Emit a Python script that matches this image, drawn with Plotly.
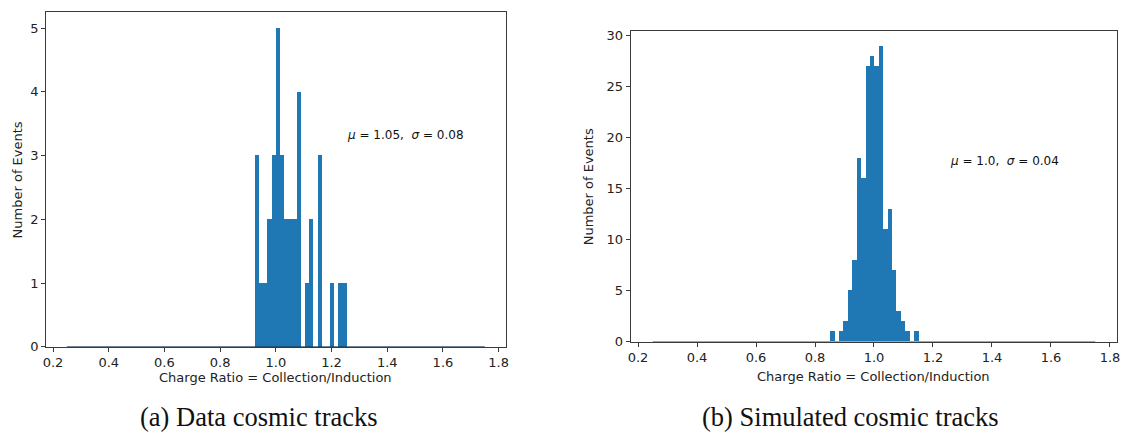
import numpy as np
import plotly.graph_objects as go

# Histogram binning (shared by both panels)
bin_lo = 0.25
bin_hi = 1.75
n_bins = 100

# (a) Data cosmic tracks: counts for bins starting at index data_first_bin
data_first_bin = 45
data_counts = [3, 1, 1, 2, 3, 5, 3, 2, 2, 2, 4, 0, 1, 2, 0, 3, 0, 0, 1, 0, 1, 1]

# (b) Simulated cosmic tracks
sim_first_bin = 40
sim_counts = [1, 0, 1, 2, 5, 8, 18, 16, 27, 28, 27, 29, 11, 13, 7, 3, 2, 1, 0, 1]

data_label = "<i>μ</i> = 1.05,  <i>σ</i> = 0.08"
sim_label = "<i>μ</i> = 1.0,  <i>σ</i> = 0.04"
data_caption = "(a) Data cosmic tracks"
sim_caption = "(b) Simulated cosmic tracks"
x_title = "Charge Ratio = Collection/Induction"
y_title = "Number of Events"
x_ticks = [0.2, 0.4, 0.6, 0.8, 1.0, 1.2, 1.4, 1.6, 1.8]

bw = (bin_hi - bin_lo) / n_bins
BLUE = "#1f77b4"
AX = "#3a3a3a"
FONT = "DejaVu Sans"


def centers(first, counts):
    idx = np.arange(first, first + len(counts))
    return bin_lo + (idx + 0.5) * bw


fig = go.Figure()
for first, counts, xa, ya in [(data_first_bin, data_counts, "x", "y"),
                               (sim_first_bin, sim_counts, "x2", "y2")]:
    fig.add_trace(go.Scatter(x=[bin_lo, bin_hi], y=[0, 0], mode="lines",
                             line=dict(color="#1f3a57", width=1), xaxis=xa, yaxis=ya,
                             hoverinfo="skip", showlegend=False, cliponaxis=False))
    fig.add_trace(go.Bar(x=centers(first, counts), y=counts, width=bw,
                         marker=dict(color=BLUE, line=dict(width=0)),
                         xaxis=xa, yaxis=ya, showlegend=False))

W, H = 1129, 440
L1, R1, T1, B1 = 43.3, 505.3, 9.3, 352.7
L2, R2, T2, B2 = 631.0, 1120.3, 29.0, 347.3

common_x = dict(range=[0.175, 1.825], tickvals=x_ticks, ticktext=[f"{v:.1f}" for v in x_ticks],
                showline=True, linecolor=AX, linewidth=1, mirror=True, ticks="outside",
                ticklen=4, tickcolor=AX, showgrid=False, zeroline=False,
                tickfont=dict(family=FONT, size=13, color="#222"), layer="below traces")
common_y = dict(showline=True, linecolor=AX, linewidth=1, mirror=True, ticks="outside",
                ticklen=4, tickcolor=AX, showgrid=False, zeroline=False,
                tickfont=dict(family=FONT, size=13, color="#222"))

fig.update_layout(
    width=W, height=H, margin=dict(l=0, r=0, t=0, b=0),
    paper_bgcolor="white", plot_bgcolor="white", bargap=0, barmode="overlay",
    xaxis=dict(domain=[L1 / W, R1 / W], anchor="y", **common_x),
    yaxis=dict(domain=[1 - B1 / H, 1 - T1 / H], anchor="x", range=[0, 5.25],
               tickvals=[0, 1, 2, 3, 4, 5], **common_y),
    xaxis2=dict(domain=[L2 / W, R2 / W], anchor="y2", **common_x),
    yaxis2=dict(domain=[1 - B2 / H, 1 - T2 / H], anchor="x2", range=[0, 30.45],
                tickvals=[0, 5, 10, 15, 20, 25, 30], **common_y),
)

ann = []
ann.append(dict(x=1.25, y=3.32, xref="x", yref="y", text=data_label, showarrow=False,
                xanchor="left", yanchor="middle", font=dict(family=FONT, size=12, color="#111")))
ann.append(dict(x=1.25, y=17.73, xref="x2", yref="y2", text=sim_label, showarrow=False,
                xanchor="left", yanchor="middle", font=dict(family=FONT, size=12, color="#111")))
# axis titles
ann.append(dict(x=(L1 + R1) / 2 / W, y=1 - 384 / H, xref="paper", yref="paper", text=x_title,
                showarrow=False, xanchor="center", yanchor="middle",
                font=dict(family=FONT, size=13, color="#222")))
ann.append(dict(x=(L2 + R2) / 2 / W, y=1 - 383 / H, xref="paper", yref="paper", text=x_title,
                showarrow=False, xanchor="center", yanchor="middle",
                font=dict(family=FONT, size=13, color="#222")))
ann.append(dict(x=15 / W, y=1 - (T1 + B1) / 2 / H, xref="paper", yref="paper", text=y_title,
                showarrow=False, textangle=-90, xanchor="center", yanchor="middle",
                font=dict(family=FONT, size=13, color="#222")))
ann.append(dict(x=589 / W, y=1 - (T2 + B2) / 2 / H, xref="paper", yref="paper", text=y_title,
                showarrow=False, textangle=-90, xanchor="center", yanchor="middle",
                font=dict(family=FONT, size=13, color="#222")))
# captions
ann.append(dict(x=257 / W, y=1 - 425 / H, xref="paper", yref="paper", text=data_caption,
                showarrow=False, xanchor="center", yanchor="middle",
                font=dict(family="Liberation Serif", size=26.5, color="#111")))
ann.append(dict(x=852 / W, y=1 - 425 / H, xref="paper", yref="paper", text=sim_caption,
                showarrow=False, xanchor="center", yanchor="middle",
                font=dict(family="Liberation Serif", size=26.5, color="#111")))
fig.update_layout(annotations=ann)

fig.write_html("out.html")
